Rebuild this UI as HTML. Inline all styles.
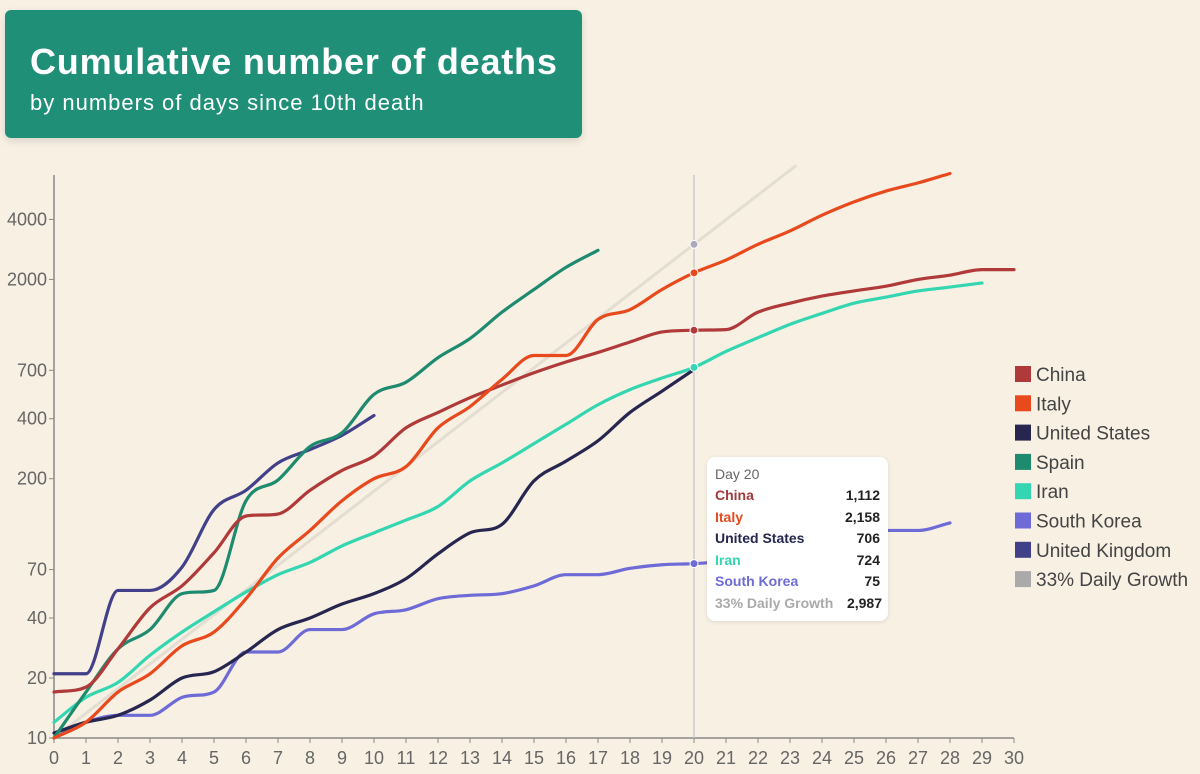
<!DOCTYPE html>
<html><head><meta charset="utf-8">
<style>
body{margin:0;background:#f7f0e3;font-family:"Liberation Sans",sans-serif;}
#wrap{position:relative;width:1200px;height:774px;overflow:hidden;background:#f7f0e3;}
#title{position:absolute;left:5px;top:10px;width:577px;height:128px;background:#208f78;border-radius:6px;box-shadow:0 3px 8px rgba(0,0,0,0.12);color:#fff;}
#title h1{margin:0;position:absolute;left:25px;top:31px;font-size:36px;font-weight:bold;letter-spacing:0.8px;}
#title p{margin:0;position:absolute;left:25px;top:80px;font-size:22px;letter-spacing:1px;}
#tip{position:absolute;left:707px;top:457px;width:181px;height:164px;background:#fff;border-radius:8px;box-shadow:0 1px 4px rgba(0,0,0,0.1);font-size:14px;}
.row{position:absolute;left:8px;right:8px;font-weight:bold;display:flex;justify-content:space-between;}
svg text{font-family:"Liberation Sans",sans-serif;}
</style></head><body>
<div id="wrap">
<div id="title">
<h1>Cumulative number of deaths</h1>
<p>by numbers of days since 10th death</p>
</div>
<svg id="chart" width="1200" height="774" style="position:absolute;left:0;top:0"></svg>
<div id="tip">
<div style="position:absolute;left:8px;top:9px;color:#666;">Day 20</div>
<div class="row" style="top:30px;color:#a33a3a"><span>China</span><span style="color:#222">1,112</span></div>
<div class="row" style="top:52px;color:#e8491d"><span>Italy</span><span style="color:#222">2,158</span></div>
<div class="row" style="top:73px;color:#26264f"><span>United States</span><span style="color:#222">706</span></div>
<div class="row" style="top:95px;color:#33d6b0"><span>Iran</span><span style="color:#222">724</span></div>
<div class="row" style="top:116px;color:#6e6ad6"><span>South Korea</span><span style="color:#222">75</span></div>
<div class="row" style="top:138px;color:#aaa;right:6px;left:8px"><span>33% Daily Growth</span><span style="color:#222">2,987</span></div>
</div>
</div>
<script>
const xTicks=[0,1,2,3,4,5,6,7,8,9,10,11,12,13,14,15,16,17,18,19,20,21,22,23,24,25,26,27,28,29,30];
const yTicks=[10,20,40,70,200,400,700,2000,4000];
const yTickLabels=["10","20","40","70","200","400","700","2000","4000"];
const seriesNames=["China","Italy","United States","Spain","Iran","South Korea","United Kingdom","33% Daily Growth"];
const seriesColors=["#b03a3a","#e8491d","#26264f","#1e8a6e","#33d6b0","#6e6ad6","#424088","#aaaaaa"];
const china=[17,18,28,45,58,85,130,133,175,220,260,360,430,510,590,680,770,860,970,1090,1112,1120,1370,1520,1650,1750,1850,2000,2100,2240,2240];
const italy=[10,12,17,21,29,34,50,80,110,155,200,230,360,460,630,830,830,1260,1410,1780,2158,2500,3000,3500,4200,4900,5550,6100,6800];
const us=[10.6,12,13,15.5,20,21.5,27,35,40,47,53,63,84,107,118,195,245,310,430,550,706];
const spain=[10,17,28,35,53,55,155,197,290,340,530,610,810,1010,1370,1780,2300,2800];
const iran=[12,16,19,26,34,43,54,66,76,92,107,124,145,195,240,300,375,470,560,640,724,870,1020,1190,1350,1520,1630,1750,1830,1920];
const korea=[10,12,13,13,16,17,27,27,35,35,42,44,50,52,53,58,66,66,71,74,75,77,81,84,91,102,110,110,120];
const uk=[21,21,55,55,72,140,175,240,280,330,415];
const growthDays=[0,23.2];
const growthVals=[10,7470];
const NS="http://www.w3.org/2000/svg";
const svg=document.getElementById('chart');
const X=d=>54+d*32;
const Y=v=>738-(Math.log10(v)-1)*199.3;
function el(t,a){const e=document.createElementNS(NS,t);for(const k in a)e.setAttribute(k,a[k]);svg.appendChild(e);return e;}
let ax=el('line',{x1:54,y1:175,x2:54,y2:738,stroke:'#888','stroke-width':1.5});

let bx=el('line',{x1:54,y1:738,x2:1014,y2:738,stroke:'#888','stroke-width':1.5});

yTicks.forEach((v,i)=>{
 const tk=el('line',{x1:49,x2:54,y1:Y(v),y2:Y(v),stroke:'#888'});
 
 const t=el('text',{x:47,y:Y(v)+6,'text-anchor':'end','font-size':18,fill:'#666'});
 t.textContent=yTickLabels[i];
 
});
xTicks.forEach(d=>{
 const tk=el('line',{x1:X(d),x2:X(d),y1:738,y2:743,stroke:'#888'});
 
 const t=el('text',{x:X(d),y:764,'text-anchor':'middle','font-size':18,fill:'#666'});
 t.textContent=d;
 
});
function monotone(pts){
 const n=pts.length;if(n<2)return '';
 const dx=[],dy=[],m=[],t=[];
 for(let i=0;i<n-1;i++){dx[i]=pts[i+1][0]-pts[i][0];dy[i]=pts[i+1][1]-pts[i][1];m[i]=dy[i]/dx[i];}
 t[0]=m[0];t[n-1]=m[n-2];
 for(let i=1;i<n-1;i++){if(m[i-1]*m[i]<=0)t[i]=0;else{t[i]=(m[i-1]+m[i])/2;
  const a=t[i]/m[i-1],b=t[i]/m[i],s=a*a+b*b;if(s>9){const k=3/Math.sqrt(s);t[i]=k*t[i];}}}
 for(let i=0;i<n-1;i++){if(m[i]===0){t[i]=0;t[i+1]=0;}}
 let d='M'+pts[0][0]+','+pts[0][1];
 for(let i=0;i<n-1;i++){const h=dx[i]/3;
  d+=' C'+(pts[i][0]+h)+','+(pts[i][1]+t[i]*h)+' '+(pts[i+1][0]-h)+','+(pts[i+1][1]-t[i+1]*h)+' '+pts[i+1][0]+','+pts[i+1][1];}
 return d;
}
let g=el('line',{x1:X(growthDays[0]),y1:Y(growthVals[0]),x2:X(growthDays[1]),y2:Y(growthVals[1]),stroke:'#e3ddd2','stroke-width':3});

let hv=el('line',{x1:X(20),x2:X(20),y1:175,y2:738,stroke:'#ccc','stroke-width':1.5});

const data=[korea,iran,us,uk,spain,china,italy];
const idx=[5,4,2,6,3,0,1];
const names=['korea-line','iran-line','us-line','uk-line','spain-line','china-line','italy-line'];
data.forEach((arr,j)=>{
 const pts=arr.map((v,d)=>[X(d),Y(v)]);
 const p=el('path',{d:monotone(pts),fill:'none',stroke:seriesColors[idx[j]],'stroke-width':3.2,'stroke-linecap':'round'});
 
});
const dotSeries=[[china,0],[italy,1],[iran,4],[korea,5]];
dotSeries.forEach(([a,c])=>{
 const c1=el('circle',{cx:X(20),cy:Y(a[20]),r:4,fill:seriesColors[c],stroke:'#fff','stroke-width':1});
 
});
const gv=growthVals[0]*Math.pow(growthVals[1]/growthVals[0],20/growthDays[1]);
const gd=el('circle',{cx:X(20),cy:Y(gv),r:4,fill:'#aab',stroke:'#fff','stroke-width':1});

seriesNames.forEach((n,i)=>{
 const y=374+i*29.3;
 const r=el('rect',{x:1015,y:y-8,width:16,height:16,fill:i==7?'#aaaaaa':seriesColors[i]});
 
 const t=el('text',{x:1036,y:y+7,'font-size':19,fill:'#444'});
 t.textContent=n;
 
});
</script>
</body></html>
